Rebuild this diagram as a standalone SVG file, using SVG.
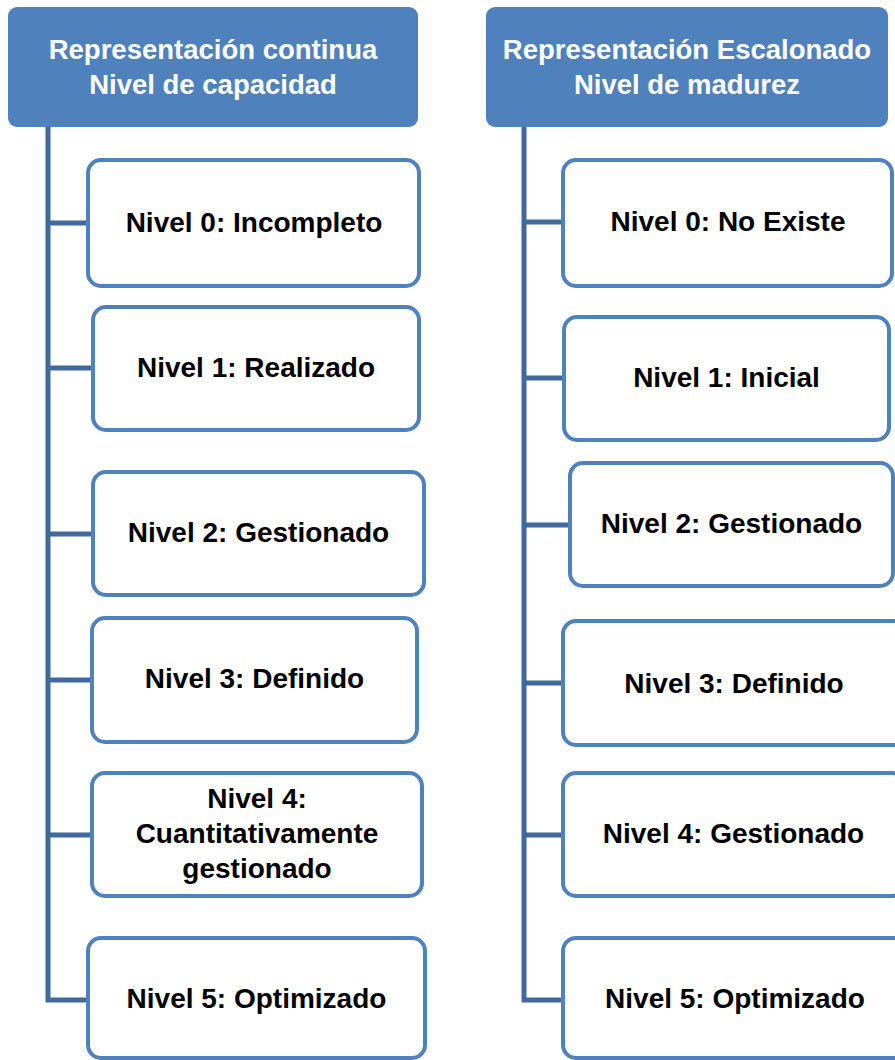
<svg xmlns="http://www.w3.org/2000/svg" width="895" height="1060" viewBox="0 0 895 1060">
  <style>
    .head { fill: #4F81BD; }
    .head-text { fill: #FFFFFF; font-family: "Liberation Sans", Arial, sans-serif; font-weight: bold; font-size: 27.5px; text-anchor: middle; }
    .box { fill: #FFFFFF; stroke: #4F81BD; stroke-width: 4; }
    .label { fill: #000000; font-family: "Liberation Sans", Arial, sans-serif; font-weight: bold; font-size: 28px; text-anchor: middle; }
    .conn { fill: none; stroke: #41699B; stroke-width: 5; stroke-linejoin: miter; }
  </style>
  <rect width="895" height="1060" fill="#FFFFFF"/>

  <!-- connectors: trunk lines and stubs -->
  <g id="connectors">
    <path class="conn" d="M48 127 V1000 H88"/>
    <path class="conn" d="M48 223 H88 M48 368 H93 M48 534 H93 M48 680 H92 M48 835 H92"/>
    <path class="conn" d="M524 127 V1000 H563"/>
    <path class="conn" d="M524 222 H563 M524 378 H564 M524 525 H570 M524 683 H563 M524 835 H563"/>
  </g>

  <!-- continuous representation -->
  <g id="head-continua">
    <rect class="head" x="8" y="7" width="410" height="120" rx="9"/>
    <text class="head-text" x="213" y="59">Representación continua</text>
    <text class="head-text" x="213" y="94">Nivel de capacidad</text>
  </g>
  <g id="c0">
    <rect class="box" x="88" y="160" width="331" height="126" rx="13"/>
    <text class="label" x="254" y="232">Nivel 0: Incompleto</text>
  </g>
  <g id="c1">
    <rect class="box" x="93" y="307" width="326" height="123" rx="13"/>
    <text class="label" x="256" y="377">Nivel 1: Realizado</text>
  </g>
  <g id="c2">
    <rect class="box" x="93" y="472" width="331" height="123" rx="13"/>
    <text class="label" x="258.5" y="542">Nivel 2: Gestionado</text>
  </g>
  <g id="c3">
    <rect class="box" x="92" y="618" width="325" height="124" rx="13"/>
    <text class="label" x="254.5" y="688">Nivel 3: Definido</text>
  </g>
  <g id="c4">
    <rect class="box" x="92" y="773" width="330" height="123" rx="13"/>
    <text class="label" x="257" y="808">Nivel 4:</text>
    <text class="label" x="257" y="843">Cuantitativamente</text>
    <text class="label" x="257" y="878">gestionado</text>
  </g>
  <g id="c5">
    <rect class="box" x="88" y="938" width="337" height="120" rx="13"/>
    <text class="label" x="256.5" y="1008">Nivel 5: Optimizado</text>
  </g>

  <!-- staged representation -->
  <g id="head-escalonado">
    <rect class="head" x="486" y="7" width="402" height="120" rx="9"/>
    <text class="head-text" x="687" y="59">Representación Escalonado</text>
    <text class="head-text" x="687" y="94">Nivel de madurez</text>
  </g>
  <g id="e0">
    <rect class="box" x="563" y="160" width="329" height="126" rx="13"/>
    <text class="label" x="728" y="231">Nivel 0: No Existe</text>
  </g>
  <g id="e1">
    <rect class="box" x="564" y="317" width="325" height="123" rx="13"/>
    <text class="label" x="726.5" y="387">Nivel 1: Inicial</text>
  </g>
  <g id="e2">
    <rect class="box" x="570" y="463" width="323" height="123" rx="13"/>
    <text class="label" x="731.5" y="533">Nivel 2: Gestionado</text>
  </g>
  <g id="e3">
    <rect class="box" x="563" y="621" width="343" height="124" rx="13"/>
    <text class="label" x="734" y="693">Nivel 3: Definido</text>
  </g>
  <g id="e4">
    <rect class="box" x="563" y="773" width="342" height="123" rx="13"/>
    <text class="label" x="733.5" y="843">Nivel 4: Gestionado</text>
  </g>
  <g id="e5">
    <rect class="box" x="563" y="938" width="344" height="120" rx="13"/>
    <text class="label" x="735" y="1008">Nivel 5: Optimizado</text>
  </g>
</svg>
